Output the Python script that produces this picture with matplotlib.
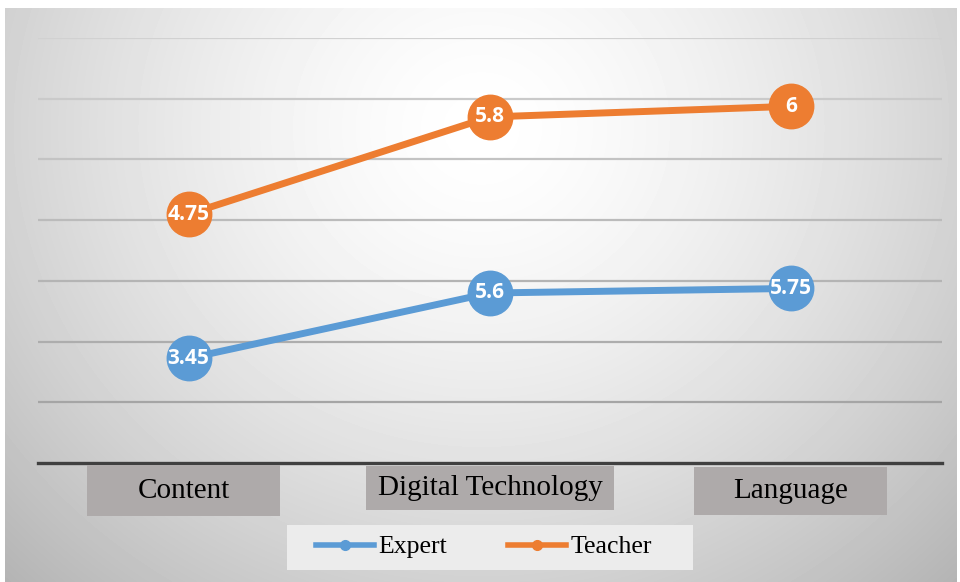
import numpy as np
import matplotlib
matplotlib.use("Agg")
import matplotlib.pyplot as plt
from matplotlib.lines import Line2D
from matplotlib.patches import Rectangle

categories = ["Content", "Digital Technology", "Language"]
expert = [3.45, 5.6, 5.75]
teacher = [4.75, 5.8, 6]
series_names = ["Expert", "Teacher"]

BLUE = "#5B9BD5"
ORANGE = "#ED7D31"

W, H = 960, 582
fig = plt.figure(figsize=(W / 100, H / 100), dpi=100)
fig.patch.set_facecolor("white")

# background gradient panel
bg = fig.add_axes([5 / W, 0, 952 / W, 574 / H], zorder=-10)
yy, xx = np.mgrid[0:574, 0:952]
r = np.sqrt(((xx - 476) / 560.0) ** 2 + ((yy - 120) / 520.0) ** 2)
val = np.clip(1 - 0.22 * r ** 1.5, 0, 1)
bg.imshow(val, cmap="gray", vmin=0, vmax=1, aspect="auto", interpolation="bilinear")
bg.set_axis_off()

ax = fig.add_axes([38 / W, (H - 463) / H, 904 / W, 425 / H])
ax.patch.set_alpha(0)
x = np.arange(len(categories))
exp = np.array(expert)
cum = exp + np.array(teacher)

ax.set_xlim(-0.5, len(categories) - 0.5)
ax.set_ylim(0, 14)
ax.set_yticks(np.arange(0, 15, 2))
ax.set_yticklabels([])
ax.set_xticks([])
ax.tick_params(left=False)
for s in ["top", "right", "left"]:
    ax.spines[s].set_visible(False)
ax.spines["bottom"].set_color("#404040")
ax.spines["bottom"].set_linewidth(2.4)
ax.spines["bottom"].set_zorder(5)
for yv in np.arange(2, 15, 2):
    shade = 0.62 + 0.2 * (yv / 14)
    ax.axhline(yv, color=(shade, shade, shade), lw=1.6, zorder=1)

ax.plot(x, exp, color=BLUE, lw=5, marker="o", ms=32, mec=BLUE, zorder=3, solid_capstyle="round")
ax.plot(x, cum, color=ORANGE, lw=5, marker="o", ms=32, mec=ORANGE, zorder=3, solid_capstyle="round")
for xi, yi, v in zip(x, exp, expert):
    ax.text(xi, yi, f"{v:g}", color="white", fontsize=15, fontweight="bold",
            family="Open Sans", ha="center", va="center", zorder=4)
for xi, yi, v in zip(x, cum, teacher):
    ax.text(xi, yi, f"{v:g}", color="white", fontsize=15, fontweight="bold",
            family="Open Sans", ha="center", va="center", zorder=4)

# category label boxes (pixel geometry)
boxes = [(87, 465, 193, 51), (366, 466, 248, 44), (694, 467, 193, 48)]
for (bx, by, bw, bh), name, xi in zip(boxes, categories, x):
    fig.patches.append(Rectangle((bx / W, (H - by - bh) / H), bw / W, bh / H,
                                 transform=fig.transFigure, facecolor="#aeaaaa",
                                 edgecolor="none", zorder=1))
    cx = (bx + bw / 2) / W
    fig.text(cx, (H - by - bh / 2) / H, name, ha="center", va="center",
             family="Liberation Serif", fontsize=21, color="black", zorder=2)

# legend panel
fig.patches.append(Rectangle((287 / W, (H - 570) / H), 406 / W, 45 / H,
                             transform=fig.transFigure, facecolor="#ececec",
                             edgecolor="none", zorder=1))
handles = [Line2D([], [], color=BLUE, lw=4, marker="o", ms=7),
           Line2D([], [], color=ORANGE, lw=4, marker="o", ms=7)]
leg = fig.legend(handles, series_names, loc="center", bbox_to_anchor=(484 / W, (H - 547) / H),
                 ncol=2, frameon=False,
                 prop={"family": "Liberation Serif", "size": 18.5}, handlelength=2.25,
                 handletextpad=0.15, columnspacing=2.4)

fig.savefig("out.png", dpi=100)
